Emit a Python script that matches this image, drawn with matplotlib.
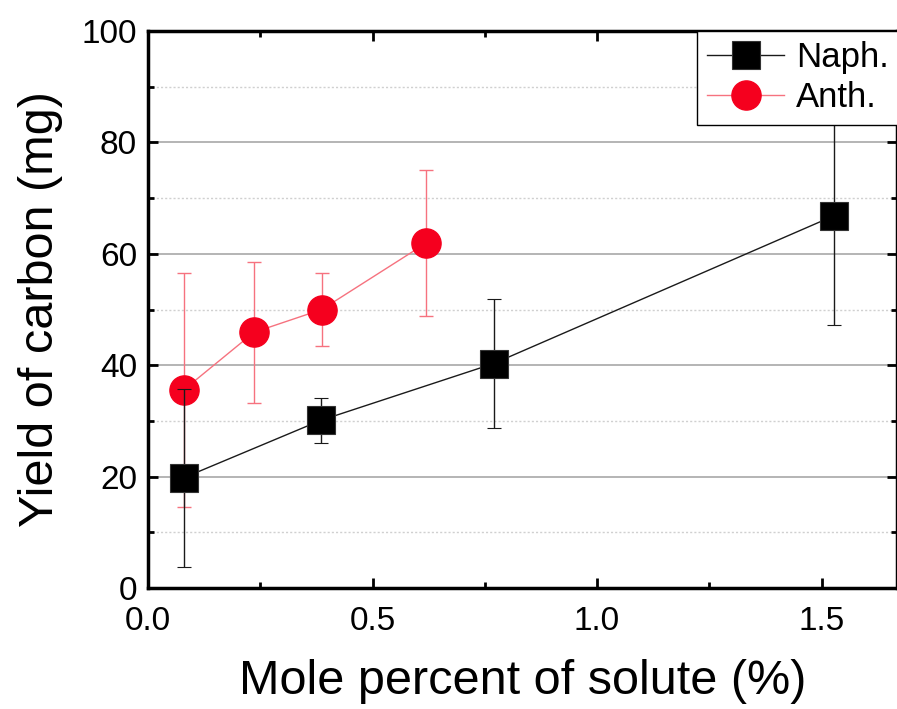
import matplotlib
matplotlib.use("Agg")
import matplotlib.pyplot as plt
from matplotlib.lines import Line2D
from matplotlib.ticker import MultipleLocator, FormatStrFormatter

plt.rcParams["font.family"] = ["Liberation Sans", "DejaVu Sans"]

# yield of carbon vs solute concentration
naph_x = [0.08, 0.385, 0.77, 1.527]
naph_y = [19.8, 30.1, 40.3, 66.8]
naph_err = [16.0, 4.0, 11.5, 19.5]

anth_x = [0.08, 0.236, 0.387, 0.619]
anth_y = [35.6, 45.9, 50.0, 61.9]
anth_err = [21.0, 12.7, 6.5, 13.1]

RED = "#f5001e"
PINK = "#f6727f"

fig = plt.figure(figsize=(8.97, 7.09), dpi=100)
ax = fig.add_axes([148 / 897, 1 - 588 / 709, 1 - 148 / 897, (588 - 31) / 709])

ax.errorbar(anth_x, anth_y, yerr=anth_err, color=PINK, lw=1.0, elinewidth=1.0,
            capsize=5, capthick=1.0, zorder=3, marker="o", ms=21,
            mfc=RED, mec=RED)
ax.errorbar(naph_x, naph_y, yerr=naph_err, color="#1a1a1a", lw=1.0, elinewidth=1.0,
            capsize=5, capthick=1.0, zorder=4, marker="s", ms=19.5,
            mfc="black", mec="#333333", mew=0.8)

ax.set_xlim(0, (897 - 148) / 449)
ax.set_ylim(0, 100)
ax.xaxis.set_major_locator(MultipleLocator(0.5))
ax.xaxis.set_minor_locator(MultipleLocator(0.25))
ax.yaxis.set_major_locator(MultipleLocator(20))
ax.yaxis.set_minor_locator(MultipleLocator(10))
ax.xaxis.set_major_formatter(FormatStrFormatter("%.1f"))

ax.grid(which="major", axis="y", color="#a8a8a8", lw=1.2, zorder=0)
ax.grid(which="minor", axis="y", color="#d0d0d0", lw=1.0, ls=(0, (1.5, 1.5)), zorder=0)
ax.set_axisbelow(True)

for s in ax.spines.values():
    s.set_linewidth(2.5)
ax.tick_params(which="both", direction="in", top=True, right=True, width=2)
ax.tick_params(which="major", length=7, labelsize=24)
ax.tick_params(axis="x", which="major", pad=13)
ax.tick_params(axis="y", which="major", pad=8)
ax.tick_params(which="minor", length=4)

ax.set_xlabel("Mole percent of solute (%)", fontsize=35, labelpad=16)
ax.set_ylabel("Yield of carbon (mg)", fontsize=35, labelpad=13)

handles = [
    Line2D([], [], color="#1a1a1a", lw=1.0, marker="s", ms=19.5,
           mfc="black", mec="#333333", mew=0.8),
    Line2D([], [], color=PINK, lw=1.0, marker="o", ms=21, mfc=RED, mec=RED),
]
leg = ax.legend(handles, ["Naph.", "Anth."], loc="upper left",
                bbox_to_anchor=((697 - 148) / 749, 1.0), borderaxespad=0,
                fontsize=25, frameon=True, fancybox=False, framealpha=1,
                handlelength=2.2, handletextpad=0.35, borderpad=0.3,
                labelspacing=0.2)
leg.get_frame().set_edgecolor("black")
leg.get_frame().set_linewidth(1.0)
leg.set_zorder(10)

fig.savefig("out.png", dpi=100)
